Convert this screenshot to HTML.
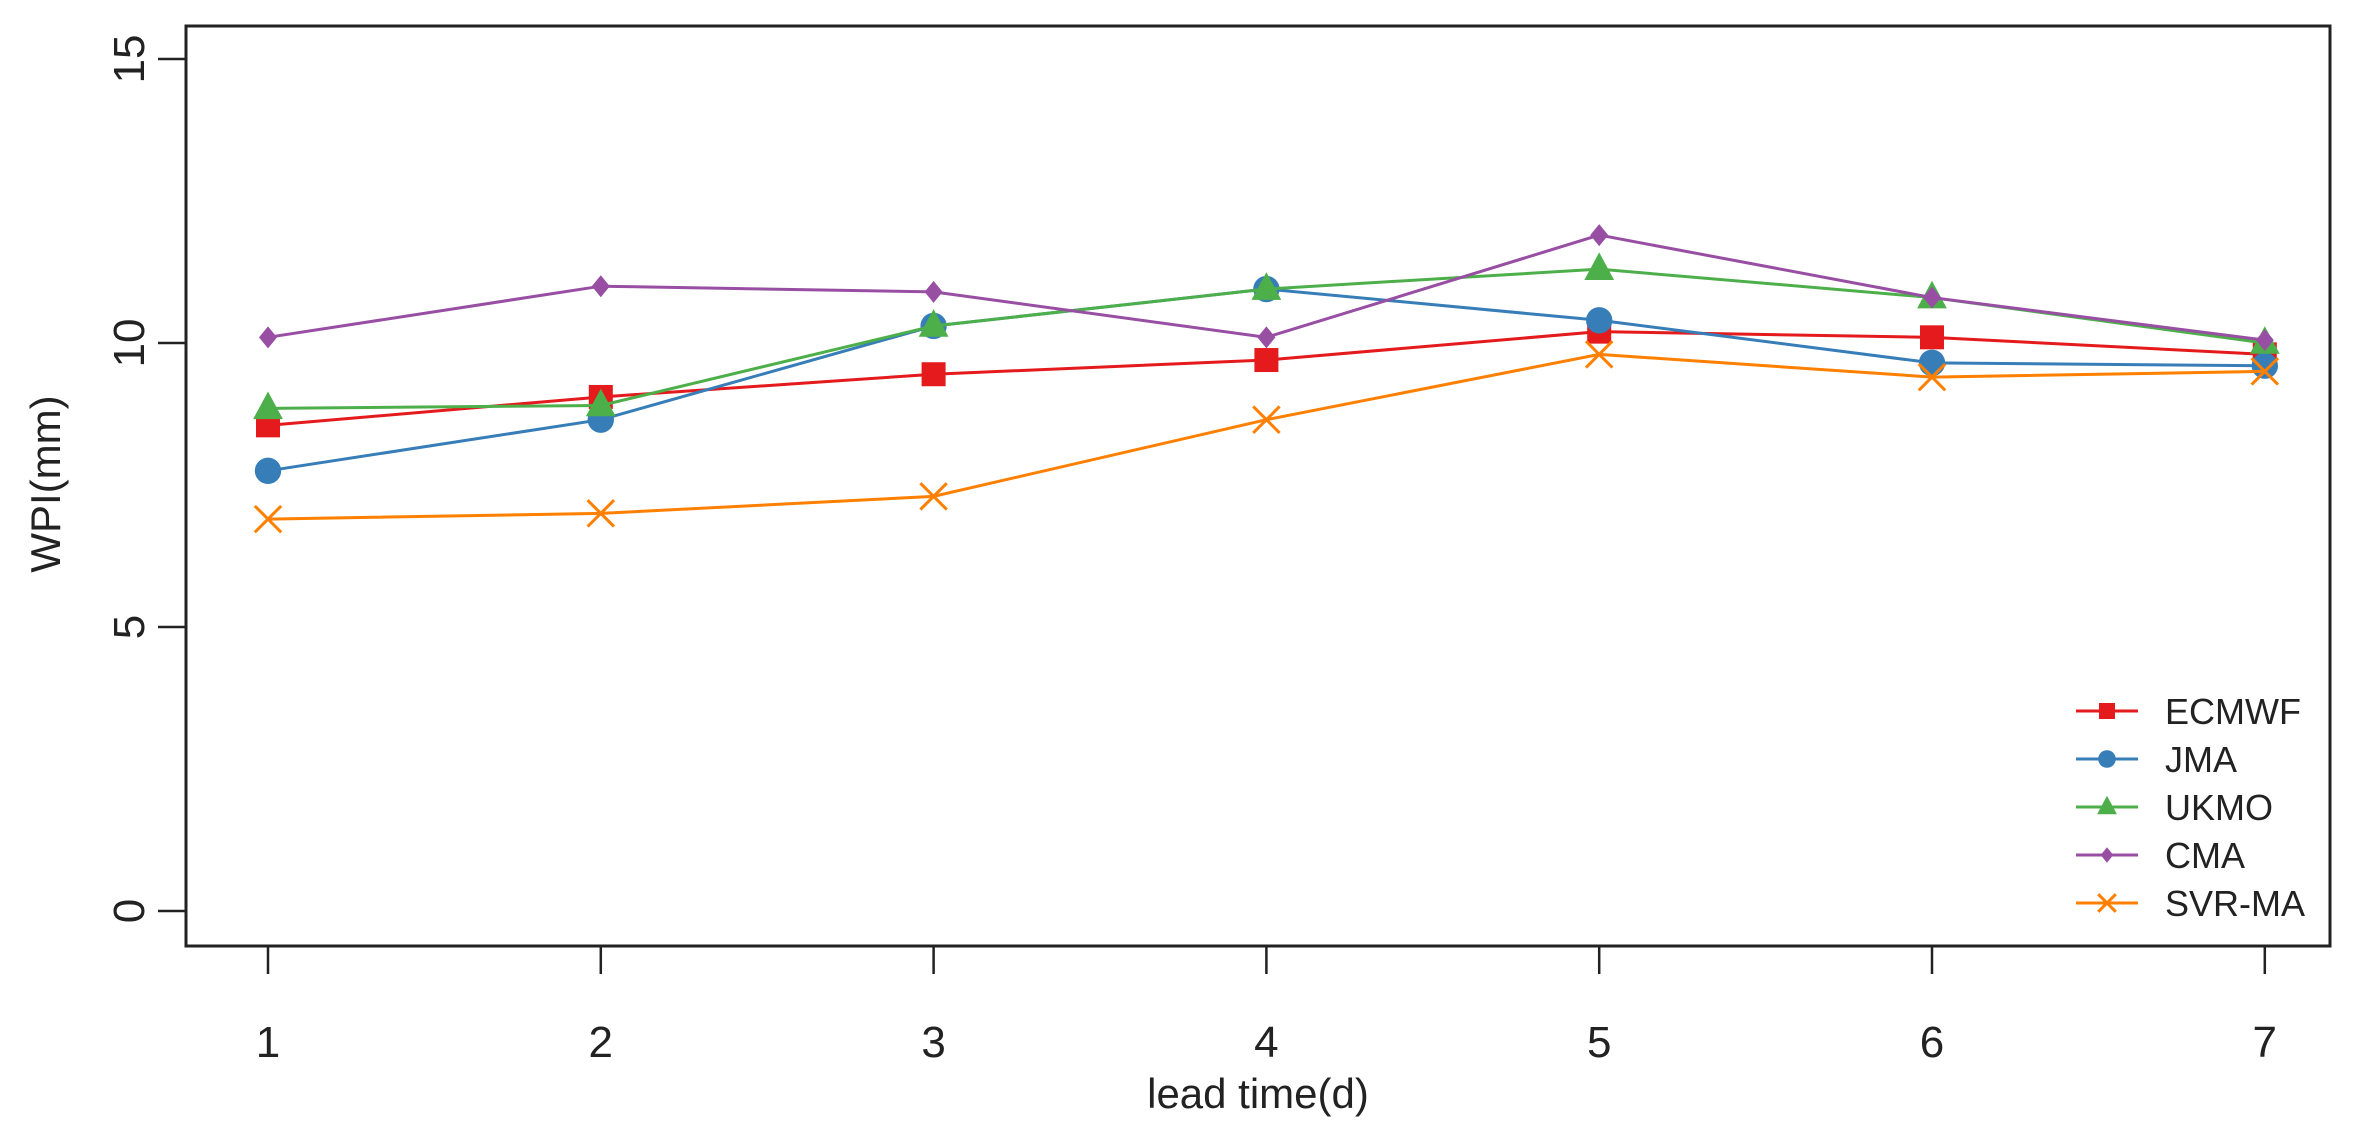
<!DOCTYPE html>
<html><head><meta charset="utf-8"><style>
html,body{margin:0;padding:0;background:#fff;}
svg{display:block;font-family:"Liberation Sans",Arial,sans-serif;}
</style></head><body>
<svg id="chart" width="2373" height="1138" viewBox="0 0 2373 1138"></svg>
<script>
const categories=[1,2,3,4,5,6,7];
const seriesNames=["ECMWF","JMA","UKMO","CMA","SVR-MA"];
const ecmwf=[8.55,9.05,9.45,9.7,10.2,10.1,9.8];
const jma=[7.75,8.65,10.3,10.95,10.4,9.65,9.6];
const ukmo=[8.85,8.9,10.3,10.95,11.3,10.8,10.0];
const cma=[10.1,11.0,10.9,10.1,11.9,10.8,10.05];
const svrma=[6.9,7.0,7.3,8.65,9.8,9.4,9.5];
const yTicks=[0,5,10,15];
const xTicks=[1,2,3,4,5,6,7];

const NS="http://www.w3.org/2000/svg";
const svg=document.getElementById('chart');
const L=186,R=2330,T=26,B=946;
function xs(v){return 268+(v-1)*332.8;}
function ys(v){return 911-56.8*v;}
function mk(tag,a,parent){const e=document.createElementNS(NS,tag);for(const k in a)e.setAttribute(k,a[k]);(parent||svg).appendChild(e);return e;}

const box=mk('rect',{x:L,y:T,width:R-L,height:B-T,fill:'none',stroke:'#222','stroke-width':3});



yTicks.forEach(v=>{
  const t=mk('line',{x1:L-28,x2:L,y1:ys(v),y2:ys(v),stroke:'#222','stroke-width':2.5});
  
  
  const tx=mk('text',{x:0,y:0,'font-size':44,fill:'#222','text-anchor':'middle',transform:`translate(144,${ys(v)}) rotate(-90)`});
  tx.textContent=v;
  
  
});
xTicks.forEach(v=>{
  const t=mk('line',{x1:xs(v),x2:xs(v),y1:B,y2:B+28,stroke:'#222','stroke-width':2.5});
  
  
  const tx=mk('text',{x:xs(v),y:1057,'font-size':44,fill:'#222','text-anchor':'middle'});
  tx.textContent=v;
  
  
});
const xt=mk('text',{x:1258,y:1108,'font-size':42,fill:'#222','text-anchor':'middle'});
xt.textContent='lead time(d)';


const yt=mk('text',{x:0,y:0,'font-size':42,fill:'#222','text-anchor':'middle',transform:'translate(60,484) rotate(-90)'});
yt.textContent='WPI(mm)';



const colors=["#e41a1c","#377eb8","#4daf4a","#984ea3","#ff7f00"];
const shapes=["square","circle","triangle","diamond","x"];
const data=[ecmwf,jma,ukmo,cma,svrma];

function marker(g,shape,x,y,c,s){
  let e;
  if(shape==='square')e=mk('rect',{x:x-s*0.5,y:y-s*0.5,width:s,height:s,fill:c},g);
  else if(shape==='circle')e=mk('circle',{cx:x,cy:y,r:s*0.55,fill:c},g);
  else if(shape==='triangle')e=mk('polygon',{points:`${x},${y-s*0.7} ${x+s*0.62},${y+s*0.45} ${x-s*0.62},${y+s*0.45}`,fill:c},g);
  else if(shape==='diamond')e=mk('polygon',{points:`${x},${y-s*0.55} ${x+s*0.45},${y} ${x},${y+s*0.55} ${x-s*0.45},${y}`,fill:c},g);
  else e=mk('path',{d:`M${x-s*0.55},${y-s*0.55}L${x+s*0.55},${y+s*0.55}M${x+s*0.55},${y-s*0.55}L${x-s*0.55},${y+s*0.55}`,stroke:c,'stroke-width':3,fill:'none'},g);
  
  
}

data.forEach((arr,i)=>{
  const g=mk('g',{});
  
  
  const pts=arr.map((v,j)=>xs(categories[j])+','+ys(v)).join(' ');
  const pl=mk('polyline',{points:pts,fill:'none',stroke:colors[i],'stroke-width':3},g);
  
  
  arr.forEach((v,j)=>marker(g,shapes[i],xs(categories[j]),ys(v),colors[i],i===3?20:24));
});

const lg=mk('g',{});


seriesNames.forEach((n,i)=>{
  const y=711+i*48;
  const ln=mk('line',{x1:2076,x2:2138,y1:y,y2:y,stroke:colors[i],'stroke-width':3},lg);
  
  
  marker(lg,shapes[i],2107,y,colors[i],i===3?14:16);
  const t=mk('text',{x:2165,y:y+13,'font-size':36,fill:'#222'},lg);
  t.textContent=n;
  
  
});
</script>
</body></html>
